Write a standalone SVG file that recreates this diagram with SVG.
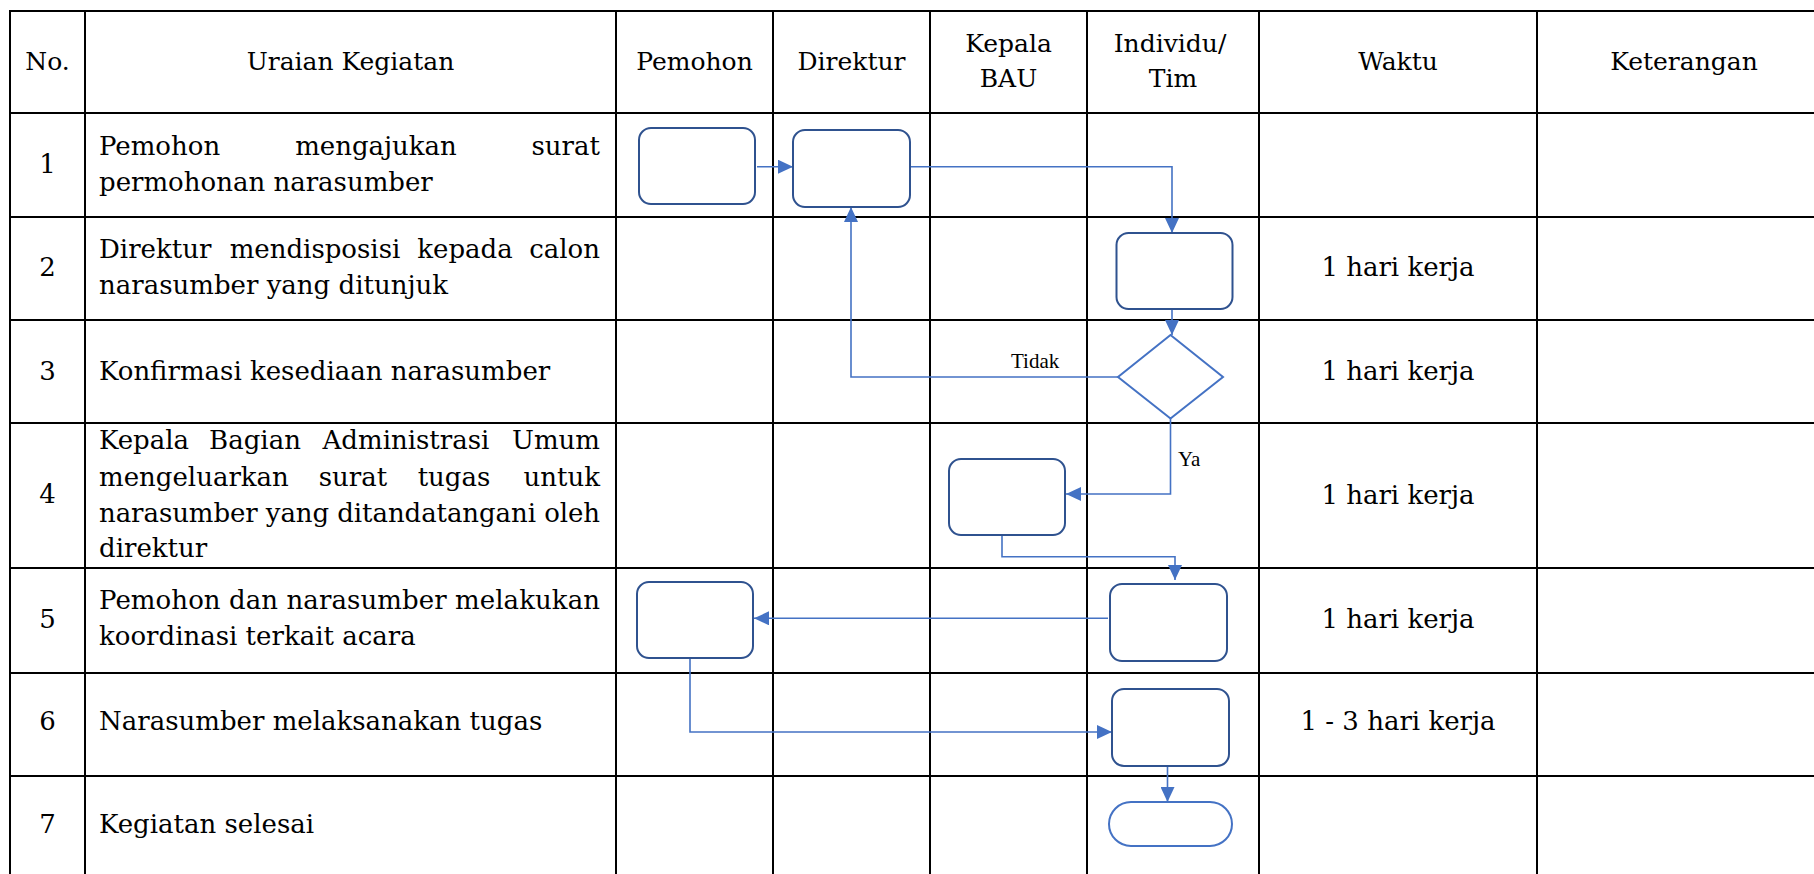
<svg xmlns="http://www.w3.org/2000/svg" width="1814" height="874" viewBox="0 0 1814 874">
  <style>
    .grid { stroke: #000; stroke-width: 2; fill: none; }
    .h { font-family: "DejaVu Serif", "Liberation Serif", serif; font-size: 25px; fill: #000; }
    .t { font-family: "DejaVu Serif", "Liberation Serif", serif; font-size: 26px; fill: #000; }
    .c { text-anchor: middle; }
    .e { text-anchor: end; }
    .lbl { font-family: "Liberation Serif", "Times New Roman", serif; font-size: 21px; fill: #000; }
    .box { fill: #fff; stroke: #2F528F; stroke-width: 2; }
    .term { fill: #fff; stroke: #4472C4; stroke-width: 2; }
    .dec { fill: #fff; stroke: #4472C4; stroke-width: 2; }
    .conn { fill: none; stroke: #4472C4; stroke-width: 1.6; }
  </style>
  <defs>
    <marker id="arrow" viewBox="0 0 15 14" refX="15" refY="7" markerWidth="15" markerHeight="14" markerUnits="userSpaceOnUse" orient="auto">
      <path d="M0,0 L15,7 L0,14 z" fill="#4472C4"/>
    </marker>
  </defs>

  <rect width="1814" height="874" fill="#fff"/>

  <!-- table grid -->
  <g id="table" class="grid">
    <line x1="10" y1="11" x2="1814" y2="11"/>
    <line x1="10" y1="113" x2="1814" y2="113"/>
    <line x1="10" y1="217" x2="1814" y2="217"/>
    <line x1="10" y1="320" x2="1814" y2="320"/>
    <line x1="10" y1="423" x2="1814" y2="423"/>
    <line x1="10" y1="568" x2="1814" y2="568"/>
    <line x1="10" y1="673" x2="1814" y2="673"/>
    <line x1="10" y1="776" x2="1814" y2="776"/>
    <line x1="10" y1="10" x2="10" y2="874"/>
    <line x1="85" y1="10" x2="85" y2="874"/>
    <line x1="616" y1="10" x2="616" y2="874"/>
    <line x1="773" y1="10" x2="773" y2="874"/>
    <line x1="930" y1="10" x2="930" y2="874"/>
    <line x1="1087" y1="10" x2="1087" y2="874"/>
    <line x1="1259" y1="10" x2="1259" y2="874"/>
    <line x1="1537" y1="10" x2="1537" y2="874"/>
  </g>

  <!-- header -->
  <g id="header" class="h">
    <text class="c" x="47.5" y="70">No.</text>
    <text class="c" x="350.5" y="70">Uraian Kegiatan</text>
    <text class="c" x="694.5" y="70">Pemohon</text>
    <text class="c" x="851.5" y="70">Direktur</text>
    <text class="c" x="1008.5" y="52">Kepala</text>
    <text class="c" x="1008.5" y="87">BAU</text>
    <text class="c" x="1170" y="52">Individu/</text>
    <text class="c" x="1173" y="87">Tim</text>
    <text class="c" x="1398" y="70">Waktu</text>
    <text class="c" x="1684" y="70">Keterangan</text>
  </g>

  <!-- row numbers -->
  <g id="numbers" class="t">
    <text class="c" x="47.5" y="173">1</text>
    <text class="c" x="47.5" y="276">2</text>
    <text class="c" x="47.5" y="380">3</text>
    <text class="c" x="47.5" y="503">4</text>
    <text class="c" x="47.5" y="628">5</text>
    <text class="c" x="47.5" y="730">6</text>
    <text class="c" x="47.5" y="833">7</text>
  </g>

  <!-- activity descriptions (justified lines placed word by word) -->
  <g id="descriptions" class="t">
    <text x="99" y="155">Pemohon</text>
    <text class="c" x="376" y="155">mengajukan</text>
    <text class="e" x="600" y="155">surat</text>
    <text x="99" y="191">permohonan narasumber</text>

    <text x="99" y="258">Direktur</text>
    <text class="c" x="315" y="258">mendisposisi</text>
    <text class="c" x="465" y="258">kepada</text>
    <text class="e" x="600" y="258">calon</text>
    <text x="99" y="294">narasumber yang ditunjuk</text>

    <text x="99" y="380">Konfirmasi kesediaan narasumber</text>

    <text x="99" y="449">Kepala</text>
    <text class="c" x="255" y="449">Bagian</text>
    <text class="c" x="406" y="449">Administrasi</text>
    <text class="e" x="600" y="449">Umum</text>
    <text x="99" y="486">mengeluarkan</text>
    <text class="c" x="353" y="486">surat</text>
    <text class="c" x="454" y="486">tugas</text>
    <text class="e" x="600" y="486">untuk</text>
    <text x="99" y="522" textLength="501" lengthAdjust="spacing">narasumber yang ditandatangani oleh</text>
    <text x="99" y="557">direktur</text>

    <text x="99" y="609" textLength="501" lengthAdjust="spacing">Pemohon dan narasumber melakukan</text>
    <text x="99" y="645">koordinasi terkait acara</text>

    <text x="99" y="730">Narasumber melaksanakan tugas</text>

    <text x="99" y="833">Kegiatan selesai</text>
  </g>

  <!-- durations -->
  <g id="waktu" class="t">
    <text class="c" x="1398" y="276">1 hari kerja</text>
    <text class="c" x="1398" y="380">1 hari kerja</text>
    <text class="c" x="1398" y="504">1 hari kerja</text>
    <text class="c" x="1398" y="628">1 hari kerja</text>
    <text class="c" x="1398" y="730">1 - 3 hari kerja</text>
  </g>

  <!-- connectors -->
  <g id="connectors" class="conn">
    <path d="M757,166.7 H793" marker-end="url(#arrow)"/>
    <path d="M911,166.7 H1172 V233" marker-end="url(#arrow)"/>
    <path d="M1172,310 V335" marker-end="url(#arrow)"/>
    <path d="M1118,377 H851 V207" marker-end="url(#arrow)"/>
    <path d="M1170.5,418 V494 H1066" marker-end="url(#arrow)"/>
    <path d="M1002,535 V556.7 H1175 V580" marker-end="url(#arrow)"/>
    <path d="M1108,618.3 H754" marker-end="url(#arrow)"/>
    <path d="M690,658 V732 H1112" marker-end="url(#arrow)"/>
    <path d="M1167.5,766 V802" marker-end="url(#arrow)"/>
    <text class="lbl" x="1011" y="368" stroke="none">Tidak</text>
    <text class="lbl" x="1178" y="466" stroke="none">Ya</text>
  </g>

  <!-- flow nodes -->
  <g id="n1-pemohon"><rect class="box" x="639" y="128" width="116" height="76" rx="12"/></g>
  <g id="n1-direktur"><rect class="box" x="793" y="130" width="117" height="77" rx="12"/></g>
  <g id="n2-individu"><rect class="box" x="1116.5" y="233" width="116" height="76" rx="12"/></g>
  <g id="n3-decision"><polygon class="dec" points="1170.5,335 1223,377 1170.5,418.5 1118,377"/></g>
  <g id="n4-bau"><rect class="box" x="949" y="459" width="116" height="76" rx="12"/></g>
  <g id="n5-individu"><rect class="box" x="1110" y="584" width="117" height="77" rx="12"/></g>
  <g id="n5-pemohon"><rect class="box" x="637" y="582" width="116" height="76" rx="12"/></g>
  <g id="n6-individu"><rect class="box" x="1112" y="689" width="117" height="77" rx="12"/></g>
  <g id="n7-end"><rect class="term" x="1109" y="802" width="123" height="44" rx="22"/></g>
</svg>
